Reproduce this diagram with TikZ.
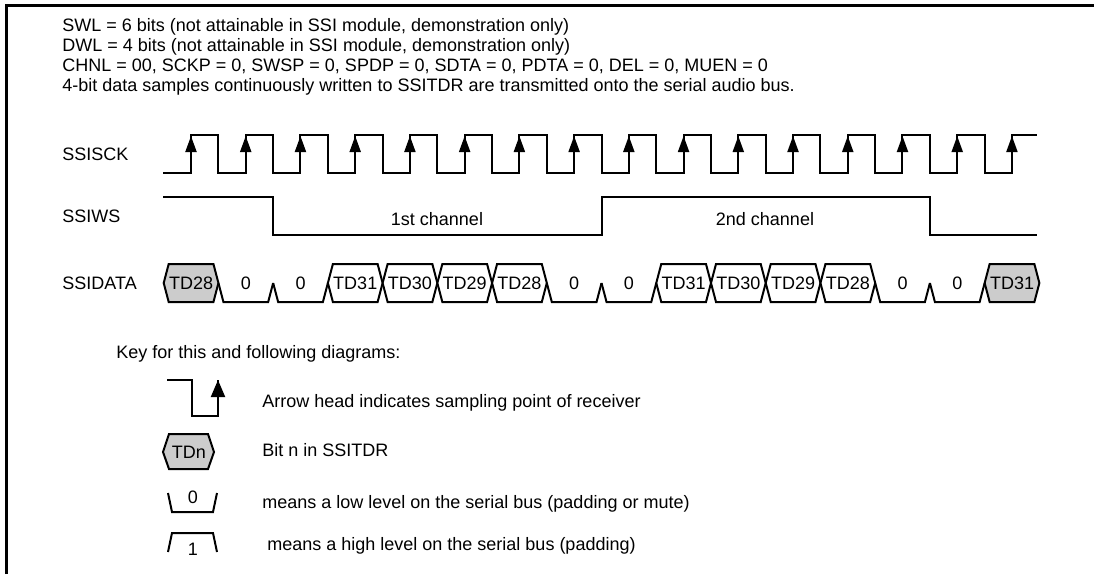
\documentclass[tikz,border=0pt]{standalone}
\usepackage{fontspec}
\setmainfont{Liberation Sans}
\usetikzlibrary{arrows.meta}
\begin{document}
\begin{tikzpicture}[x=0.5pt, y=-0.5pt, every node/.style={font=\fontsize{9}{11}\selectfont, inner sep=0pt},
    wave/.style={line width=1pt, line join=miter},
    sample/.style={line width=1pt, -{Triangle[length=8pt, width=5.5pt]}}]
    \useasboundingbox (0,0) rectangle (1094,574);
    \draw[line width=1.5pt] (6,574) -- (6,5) -- (1094,5);
    \node[anchor=base west] (swl) at (62,31) {SWL = 6 bits (not attainable in SSI module, demonstration only)};
    \node[anchor=base west] (dwl) at (62,51) {DWL = 4 bits (not attainable in SSI module, demonstration only)};
    \node[anchor=base west] (chnl) at (62,71) {CHNL = 00, SCKP = 0, SWSP = 0, SPDP = 0, SDTA = 0, PDTA = 0, DEL = 0, MUEN = 0};
    \node[anchor=base west] (note) at (62,91) {4-bit data samples continuously written to SSITDR are transmitted onto the serial audio bus.};
    \node[anchor=base west] (sck) at (62,160) {SSISCK};
    \node[anchor=base west] (ws) at (62,222) {SSIWS};
    \node[anchor=base west] (data) at (62,289) {SSIDATA};
    \draw[wave] (163,173) \foreach \k in {0,...,14} {-- ({191+54.73*\k},173) -- ({191+54.73*\k},135) -- ({218.4+54.73*\k},135) -- ({218.4+54.73*\k},173)} -- (1012,173) -- (1012,135) -- (1037,135);
    \foreach \k in {0,...,15}
        \draw[sample] ({191+54.73*\k},173) -- ({191+54.73*\k},136);
    \draw[wave] (163,197) -- (273,197) -- (273,235) -- (601.5,235) -- (601.5,197) -- (930,197) -- (930,235) -- (1037,235);
    \node (ch1) at (437,219) {1st channel};
    \node (ch2) at (765,219) {2nd channel};
    \foreach \j/\t/\c in {0/TD28/gray!40, 3/TD31/white, 4/TD30/white, 5/TD29/white, 6/TD28/white, 9/TD31/white, 10/TD30/white, 11/TD29/white, 12/TD28/white, 15/TD31/gray!40} {
        \filldraw[wave, fill=\c] ({163.7+54.73*\j},283) -- ++(5,-19) -- ({163.7+54.73*(\j+1)-5},264) -- ++(5,19) -- ++(-5,19) -- ({163.7+54.73*\j+5},302) -- cycle;
        \node (td\j) at ({163.7+54.73*(\j+0.5)},283) {\t};
    }
    \foreach \j in {1,2,7,8,13,14} {
        \draw[wave] ({163.7+54.73*\j},283) -- ++(5,19) -- ({163.7+54.73*(\j+1)-5},302) -- ++(5,-19);
        \node (z\j) at ({163.7+54.73*(\j+0.5)},283) {0};
    }
    \node[anchor=base west] (key) at (116,358) {Key for this and following diagrams:};
    \draw[wave] (167,380) -- (192,380) -- (192,416) -- (218,416) -- (218,380);
    \draw[sample, -{Triangle[length=8.5pt, width=7pt]}] (218,416) -- (218,380);
    \node[anchor=base west] (keyarrow) at (262,407) {Arrow head indicates sampling point of receiver};
    \filldraw[wave, fill=gray!40] (163,452) -- (169,434) -- (208,434) -- (214,452) -- (208,469) -- (169,469) -- cycle;
    \node (keytd) at (189,452) {TDn};
    \node[anchor=base west] (keybit) at (262,456) {Bit n in SSITDR};
    \draw[wave] (168,493) -- (172,512) -- (213,512) -- (217,493);
    \node (keyzero) at (193,497) {0};
    \node[anchor=base west] (keylow) at (262,508) {means a low level on the serial bus (padding or mute)};
    \draw[wave] (168,552) -- (172,533) -- (213,533) -- (217,552);
    \node (keyone) at (193,549) {1};
    \node[anchor=base west] (keyhigh) at (267,550) {means a high level on the serial bus (padding)};
\end{tikzpicture}
\end{document}
